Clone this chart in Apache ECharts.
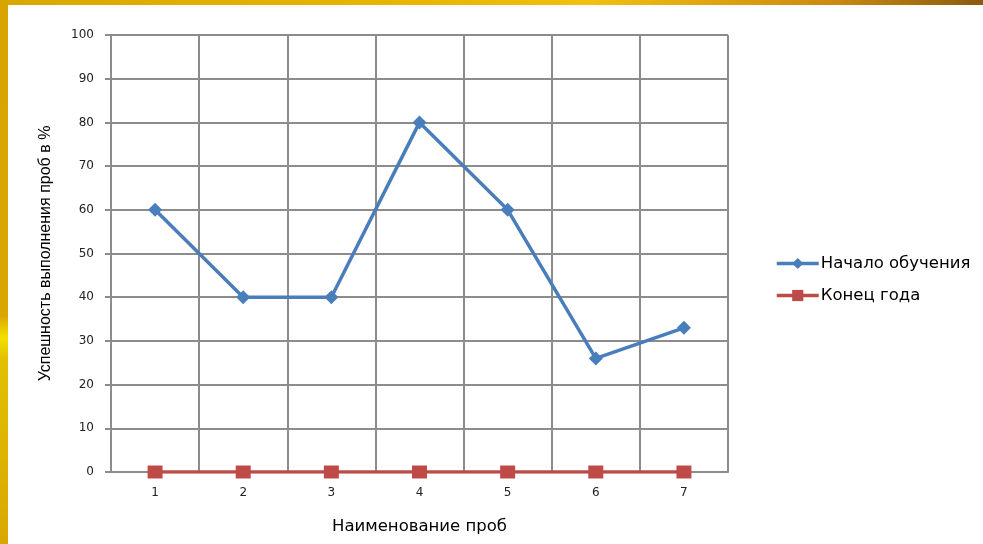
<!DOCTYPE html>
<html>
<head>
<meta charset="utf-8">
<script src="https://cdn.jsdelivr.net/npm/echarts@6/dist/echarts.min.js"></script>
<style>
  html, body { margin: 0; padding: 0; width: 983px; height: 544px; overflow: hidden; }
  body {
    background: linear-gradient(90deg, #d9a800 0%, #e8b400 40%, #f3bf10 60%, #c98a10 85%, #8a5a10 100%);
    position: relative;
  }
  #leftEdge {
    position: absolute; left: 0; top: 0; width: 8px; height: 544px;
    background: linear-gradient(180deg, #d8a400 0%, #d9a600 58%, #f4e000 62%, #e2c000 66%, #d8a800 100%);
  }
  #chart {
    position: absolute; left: 8px; top: 5px; width: 975px; height: 539px; background: #fff;
  }
</style>
</head>
<body>
<div id="leftEdge"></div>
<div id="chart"></div>
<script>
  // данные
  var categories = ['1', '2', '3', '4', '5', '6', '7']
  var nachalo = [60, 40, 40, 80, 60, 26, 33]
  var konec = [0, 0, 0, 0, 0, 0, 0]
  var seriesNames = ['Начало обучения', 'Конец года']

  var myChart = echarts.init(document.getElementById('chart'))
  var gridColor = '#8c8c8c'
  var option = {
    animation: false,
    grid: { left: 103, right: 255, top: 30, bottom: 72 },
    legend: {
      orient: 'vertical',
      left: 762,
      top: 245,
      itemGap: 15,
      itemWidth: 42,
      itemHeight: 14,
      lineStyle: { width: 3.5 },
      textStyle: { color: '#000', fontSize: 16.5, fontFamily: 'DejaVu Sans, sans-serif', padding: [0, 0, 0, -3] },
      data: seriesNames
    },
    xAxis: {
      type: 'category',
      data: categories,
      boundaryGap: true,
      name: 'Наименование проб',
      nameLocation: 'middle',
      nameGap: 46,
      nameTextStyle: { color: '#000', fontSize: 16.5, fontFamily: 'DejaVu Sans, sans-serif' },
      axisLine: { lineStyle: { color: gridColor, width: 2 } },
      axisTick: { show: false },
      axisLabel: { color: '#222', fontSize: 12, margin: 15, fontFamily: 'DejaVu Sans, sans-serif' },
      splitLine: { show: true, lineStyle: { color: gridColor, width: 2 } }
    },
    yAxis: {
      type: 'value',
      min: 0,
      max: 100,
      interval: 10,
      name: 'Успешность выполнения проб в %',
      nameLocation: 'middle',
      nameGap: 57,
      nameTextStyle: { color: '#000', fontSize: 16, fontFamily: 'Liberation Sans Narrow, Liberation Sans, Arial, sans-serif' },
      axisLine: { show: true, lineStyle: { color: gridColor, width: 2 } },
      axisTick: { show: true, length: 6, lineStyle: { color: gridColor, width: 2 } },
      axisLabel: { color: '#222', fontSize: 12, margin: 17, fontFamily: 'DejaVu Sans, sans-serif' },
      splitLine: { show: true, lineStyle: { color: gridColor, width: 2 } }
    },
    series: [
      {
        name: seriesNames[0],
        type: 'line',
        data: nachalo,
        symbol: 'diamond',
        symbolSize: 14,
        itemStyle: { color: '#4a7ebb' },
        lineStyle: { color: '#4a7ebb', width: 3.5 },
        z: 3
      },
      {
        name: seriesNames[1],
        type: 'line',
        data: konec,
        symbol: 'rect',
        symbolSize: [15, 13],
        itemStyle: { color: '#be4b48' },
        lineStyle: { color: '#be4b48', width: 3.5 },
        z: 4
      }
    ]
  }
  myChart.setOption(option)
</script>
</body>
</html>
